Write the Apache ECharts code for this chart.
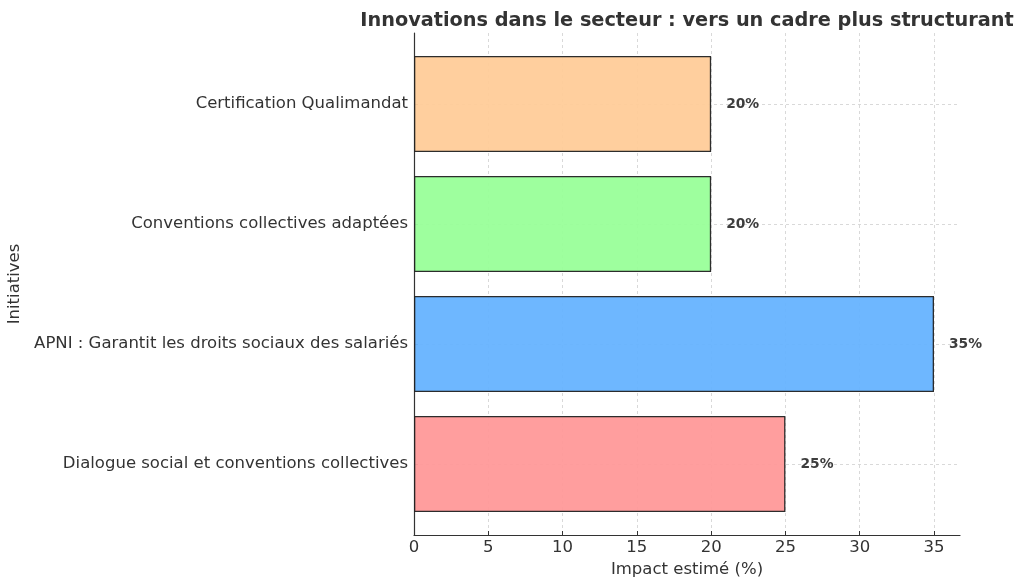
<!DOCTYPE html>
<html>
<head>
<meta charset="utf-8">
<script src="https://cdn.jsdelivr.net/npm/echarts@6/dist/echarts.min.js"></script>
<style>
html,body{margin:0;padding:0;background:#fff;}
#chart{width:1024px;height:588px;}
</style>
</head>
<body>
<div id="chart"></div>
<script>
// Data (bottom to top)
var categories = [
  'Dialogue social et conventions collectives',
  'APNI : Garantit les droits sociaux des salariés',
  'Conventions collectives adaptées',
  'Certification Qualimandat'
];
var impactValues = [25, 35, 20, 20];
var barColors = ['#FF9999', '#66B3FF', '#99FF99', '#FFCC99'];
var titleText = 'Innovations dans le secteur : vers un cadre plus structurant';
var xAxisName = 'Impact estimé (%)';
var yAxisName = 'Initiatives';

var FONT = 'DejaVu Sans';
var TXT = '#333333';
var chart = echarts.init(document.getElementById('chart'), null, {renderer: 'canvas'});

var option = {
  backgroundColor: '#ffffff',
  animation: false,
  title: {
    text: titleText,
    left: 682, top: 6, textAlign: 'center',
    textStyle: {fontFamily: FONT, fontSize: 19.3, fontWeight: 'bold', color: TXT}
  },
  grid: [
    {left: 414, right: 64, top: 33, bottom: 53, outerBoundsMode: 'none', containLabel: false},
    {left: 414, right: 64, top: 44, bottom: 64, outerBoundsMode: 'none', containLabel: false}
  ],
  xAxis: [
    {
      type: 'value', gridIndex: 0, min: 0, max: 36.75, interval: 5,
      name: xAxisName, nameLocation: 'middle', nameGap: 25,
      nameTextStyle: {fontFamily: FONT, fontSize: 16.5, color: TXT},
      axisLine: {show: true, onZero: false, lineStyle: {color: '#333', width: 1.2}},
      axisTick: {show: true, inside: true, length: 4, lineStyle: {color: '#333'}},
      axisLabel: {fontFamily: FONT, fontSize: 16.5, color: TXT, margin: 4,
        showMaxLabel: false},
      splitLine: {show: true, showMaxLine: false, lineStyle: {color: '#d0d0d0', type: [3, 3], width: 0.8}}
    },
    {
      type: 'value', gridIndex: 1, min: 0, max: 36.75,
      show: false
    }
  ],
  yAxis: [
    {
      type: 'value', gridIndex: 0, min: -0.59, max: 3.59, splitNumber: 4,
      name: yAxisName, nameLocation: 'middle', nameGap: 391, nameRotate: 90,
      nameTextStyle: {fontFamily: FONT, fontSize: 16.5, color: TXT},
      axisLine: {show: true, onZero: false, lineStyle: {color: '#333', width: 1.2}},
      axisTick: {show: false},
      axisLabel: {show: false},
      splitLine: {show: true, showMinLine: false, showMaxLine: false,
        lineStyle: {color: '#d0d0d0', type: [3, 3], width: 0.8}}
    },
    {
      type: 'category', gridIndex: 1, data: categories,
      axisLine: {show: false},
      axisTick: {show: true, inside: true, alignWithLabel: true, length: 4, lineStyle: {color: '#333'}},
      axisLabel: {fontFamily: FONT, fontSize: 16.5, color: TXT, margin: 6},
      splitLine: {show: false}
    }
  ],
  series: [{
    type: 'bar',
    xAxisIndex: 1, yAxisIndex: 1,
    barWidth: 96,
    data: impactValues.map(function (v, i) {
      return {value: v, itemStyle: {color: barColors[i]}};
    }),
    itemStyle: {borderColor: '#222', borderWidth: 1.3, opacity: 0.95},
    label: {
      show: true, position: 'right', distance: 15,
      formatter: function (p) { return p.value + '%'; },
      fontFamily: FONT, fontSize: 13.8, fontWeight: 'bold', color: TXT
    }
  }]
};
chart.setOption(option);
</script>
</body>
</html>
